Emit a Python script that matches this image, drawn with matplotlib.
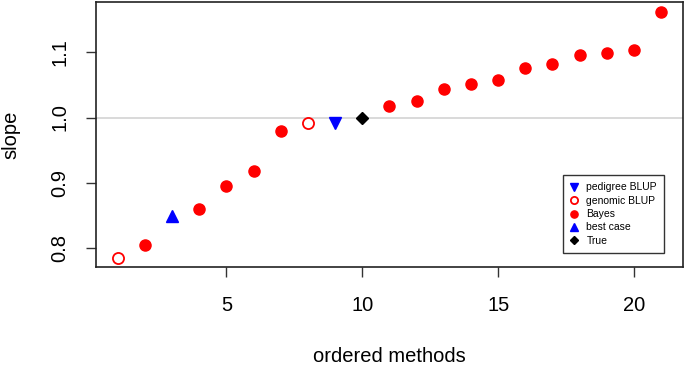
import matplotlib

matplotlib.use("Agg")
import matplotlib.pyplot as plt

plt.rcParams["font.family"] = ["Liberation Sans", "DejaVu Sans"]

# ---- data (x = rank of method, y = slope) ----
pedigree_x = [9]
pedigree_y = [0.991]
genomic_x = [1, 8]
genomic_y = [0.785, 0.992]
bayes_x = [2, 4, 5, 6, 7, 11, 12, 13, 14, 15, 16, 17, 18, 19, 20, 21]
bayes_y = [0.805, 0.860, 0.895, 0.918, 0.979, 1.017, 1.025, 1.043, 1.052,
           1.058, 1.076, 1.082, 1.096, 1.099, 1.103, 1.162]
best_x = [3]
best_y = [0.849]
true_x = [10]
true_y = [1.0]

x_ticks = [5, 10, 15, 20]
y_ticks = [0.8, 0.9, 1.0, 1.1]
y_ticklabels = ["0.8", "0.9", "1.0", "1.1"]

fig = plt.figure(figsize=(6.85, 3.68), dpi=100)
ax = fig.add_axes([0.140, 0.274, 0.857, 0.721])

ax.axhline(1.0, color="#d3d3d3", lw=1.2, zorder=1)

ax.plot(pedigree_x, pedigree_y, "v", ms=9, color="blue", ls="none",
        label="pedigree BLUP", zorder=3)
ax.plot(genomic_x, genomic_y, "o", ms=8, mfc="none", mec="red", mew=1.3,
        ls="none", label="genomic BLUP", zorder=3)
ax.plot(bayes_x, bayes_y, "o", ms=8, color="red", ls="none",
        label="Bayes", zorder=3)
ax.plot(best_x, best_y, "^", ms=9, color="blue", ls="none",
        label="best case", zorder=3)
ax.plot(true_x, true_y, "D", ms=6, color="black", ls="none",
        label="True", zorder=3)

ax.set_xlim(0.2, 21.8)
ax.set_ylim(0.7709, 1.1771)
ax.set_xticks(x_ticks)
ax.set_yticks(y_ticks)
ax.set_yticklabels(y_ticklabels, rotation=90, va="center")
ax.tick_params(axis="both", direction="out", length=7, width=1,
               labelsize=14.5, color="#333333")
ax.tick_params(axis="x", pad=14)
ax.tick_params(axis="y", pad=12)
for sp in ax.spines.values():
    sp.set_color("#222222")
    sp.set_linewidth(1.2)

ax.set_xlabel("ordered methods", fontsize=14.5, labelpad=23)
ax.set_ylabel("slope", fontsize=14.5, labelpad=22)

leg = ax.legend(loc="lower right", bbox_to_anchor=(0.968, 0.053),
                fontsize=7.5, frameon=True, fancybox=False, borderpad=0.7,
                handlelength=0.8, handletextpad=0.75, labelspacing=0.32,
                markerscale=0.65, borderaxespad=0)
leg.get_frame().set_edgecolor("black")
leg.get_frame().set_linewidth(1.0)

fig.savefig("out.png", dpi=100)
